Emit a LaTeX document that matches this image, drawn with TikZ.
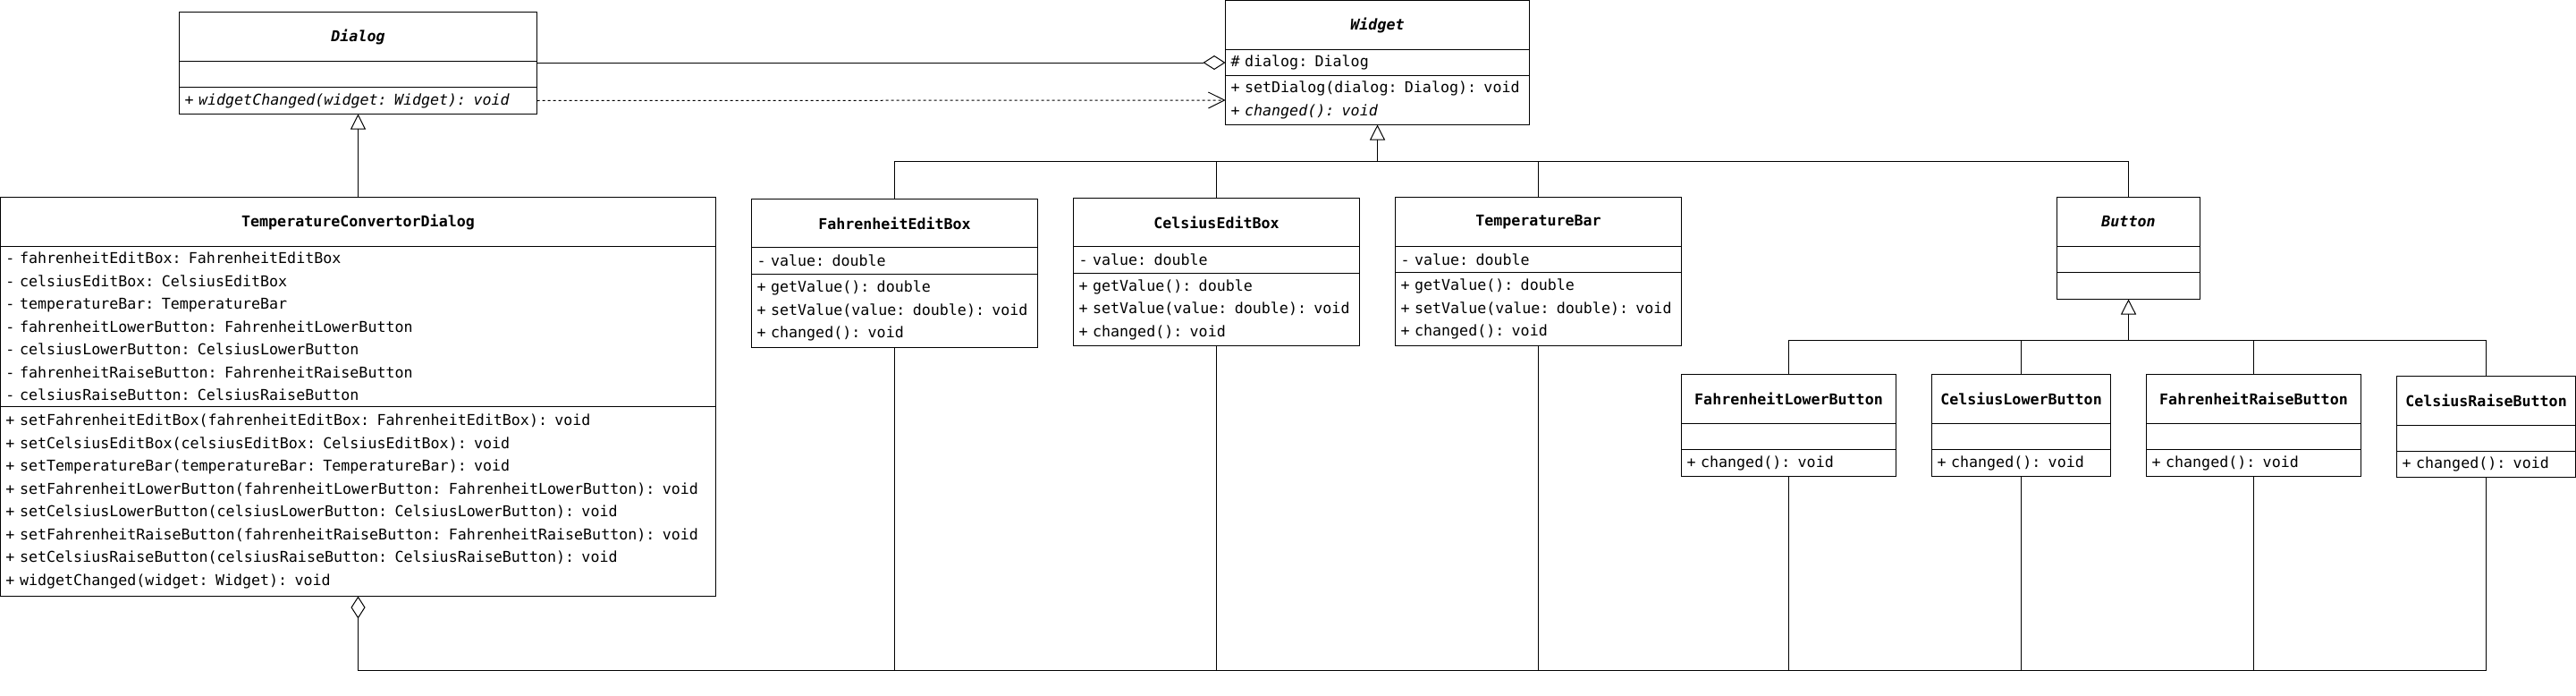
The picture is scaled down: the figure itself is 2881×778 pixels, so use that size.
\documentclass[tikz,border=0pt]{standalone}
\usepackage{fontspec}
\setmonofont{DejaVu Sans Mono}
\usepackage{tikz}
\usetikzlibrary{positioning,arrows.meta}
\newcommand\clsfont{\ttfamily\fontsize{47.4pt}{72.5pt}\selectfont}

\begin{document}
\begin{tikzpicture}[
            x=1mm, y=-1mm, line width=1mm,
            cname/.style={draw,minimum width=#1,inner sep=0pt,
                outer sep=0pt,font=\clsfont\bfseries},
            cpart/.style={draw,text width=#1-12mm,inner sep=0pt,
                inner xsep=6mm,outer sep=0pt,align=left,font=\clsfont},
            inherit/.style={-{Triangle[open,length=17mm,width=17mm]}},
            aggr/.style={-{Diamond[open,length=25mm,width=16mm]}},
            dep/.style={dash pattern=on 3mm off 3mm,
                -{Straight Barb[length=18mm,width=18mm]}}
        ]
        \useasboundingbox (0, 0) rectangle (2881, 778);
        \node[cname=400mm, minimum height=55mm, anchor=north west] (dlgh) at (200.5, 13.5) {\itshape Dialog};
        \node[cpart=400mm, minimum height=29mm, below=0pt of dlgh] (dlga) {};
        \node[cpart=400mm, minimum height=30mm, below=0pt of dlga] (dlgm) {\itshape + widgetChanged(widget: Widget): void};
        \node[cname=340mm, minimum height=55mm, anchor=north west] (wdgh) at (1370.5, 0.5) {\itshape Widget};
        \node[cpart=340mm, minimum height=29mm, below=0pt of wdgh] (wdga) {\# dialog: Dialog};
        \node[cpart=340mm, minimum height=55mm, below=0pt of wdga] (wdgm) {+ setDialog(dialog: Dialog): void\\ \itshape + changed(): void};
        \node[cname=800mm, minimum height=55mm, anchor=north west] (tcdh) at (0.5, 220.5) {TemperatureConvertorDialog};
        \node[cpart=800mm, minimum height=179mm, below=0pt of tcdh] (tcda) {- fahrenheitEditBox: FahrenheitEditBox\\ - celsiusEditBox: CelsiusEditBox\\ - temperatureBar: TemperatureBar\\ - fahrenheitLowerButton: FahrenheitLowerButton\\ - celsiusLowerButton: CelsiusLowerButton\\ - fahrenheitRaiseButton: FahrenheitRaiseButton\\ - celsiusRaiseButton: CelsiusRaiseButton};
        \node[cpart=800mm, minimum height=212mm, below=0pt of tcda] (tcdm) {+ setFahrenheitEditBox(fahrenheitEditBox: FahrenheitEditBox): void\\ + setCelsiusEditBox(celsiusEditBox: CelsiusEditBox): void\\ + setTemperatureBar(temperatureBar: TemperatureBar): void\\ + setFahrenheitLowerButton(fahrenheitLowerButton: FahrenheitLowerButton): void\\ + setCelsiusLowerButton(celsiusLowerButton: CelsiusLowerButton): void\\ + setFahrenheitRaiseButton(fahrenheitRaiseButton: FahrenheitRaiseButton): void\\ + setCelsiusRaiseButton(celsiusRaiseButton: CelsiusRaiseButton): void\\ + widgetChanged(widget: Widget): void};
        \node[cname=320mm, minimum height=54mm, anchor=north west] (febh) at (840.5, 222.5) {FahrenheitEditBox};
        \node[cpart=320mm, minimum height=30mm, below=0pt of febh] (feba) {- value: double};
        \node[cpart=320mm, minimum height=82mm, below=0pt of feba] (febm) {+ getValue(): double\\ + setValue(value: double): void\\ + changed(): void};
        \node[cname=320mm, minimum height=54mm, anchor=north west] (cebh) at (1200.5, 221.5) {CelsiusEditBox};
        \node[cpart=320mm, minimum height=30mm, below=0pt of cebh] (ceba) {- value: double};
        \node[cpart=320mm, minimum height=81mm, below=0pt of ceba] (cebm) {+ getValue(): double\\ + setValue(value: double): void\\ + changed(): void};
        \node[cname=320mm, minimum height=55mm, anchor=north west] (tbh) at (1560.5, 220.5) {TemperatureBar};
        \node[cpart=320mm, minimum height=29mm, below=0pt of tbh] (tba) {- value: double};
        \node[cpart=320mm, minimum height=82mm, below=0pt of tba] (tbm) {+ getValue(): double\\ + setValue(value: double): void\\ + changed(): void};
        \node[cname=160mm, minimum height=55mm, anchor=north west] (btnh) at (2300.5, 220.5) {\itshape Button};
        \node[cpart=160mm, minimum height=29mm, below=0pt of btnh] (btna) {};
        \node[cpart=160mm, minimum height=30mm, below=0pt of btna] (btnm) {};
        \node[cname=240mm, minimum height=55mm, anchor=north west] (flbh) at (1880.5, 418.5) {FahrenheitLowerButton};
        \node[cpart=240mm, minimum height=29mm, below=0pt of flbh] (flba) {};
        \node[cpart=240mm, minimum height=30mm, below=0pt of flba] (flbm) {+ changed(): void};
        \node[cname=200mm, minimum height=55mm, anchor=north west] (clbh) at (2160.5, 418.5) {CelsiusLowerButton};
        \node[cpart=200mm, minimum height=29mm, below=0pt of clbh] (clba) {};
        \node[cpart=200mm, minimum height=30mm, below=0pt of clba] (clbm) {+ changed(): void};
        \node[cname=240mm, minimum height=55mm, anchor=north west] (frbh) at (2400.5, 418.5) {FahrenheitRaiseButton};
        \node[cpart=240mm, minimum height=29mm, below=0pt of frbh] (frba) {};
        \node[cpart=240mm, minimum height=30mm, below=0pt of frba] (frbm) {+ changed(): void};
        \node[cname=200mm, minimum height=55mm, anchor=north west] (crbh) at (2680.5, 420.5) {CelsiusRaiseButton};
        \node[cpart=200mm, minimum height=29mm, below=0pt of crbh] (crba) {};
        \node[cpart=200mm, minimum height=29mm, below=0pt of crba] (crbm) {+ changed(): void};
        \coordinate (wbus) at (wdgm.south |- 0, 180.5);
        \coordinate (bbus) at (btnm.south |- 0, 380.5);
        \coordinate (abus) at (tcdm.south |- 0, 749.5);
        \draw[inherit] (tcdh.north) -- (tcdh.north |- dlgm.south);
        \draw[aggr] (wdga.west -| dlga.east) -- (wdga.west);
        \draw[dep] (dlgm.east) -- (wdgm.west);
        \draw[inherit] (wbus) -- (wdgm.south);
        \draw (febh.north) |- (btnh.north |- wbus) -- (btnh.north);
        \draw (cebh.north) -- (cebh.north |- wbus);
        \draw (tbh.north) -- (tbh.north |- wbus);
        \draw[inherit] (bbus) -- (btnm.south);
        \draw (flbh.north) |- (crbh.north |- bbus) -- (crbh.north);
        \draw (clbh.north) -- (clbh.north |- bbus);
        \draw (frbh.north) -- (frbh.north |- bbus);
        \draw[aggr] (crbm.south) |- (abus) -- (tcdm.south);
        \draw (febm.south) -- (febm.south |- abus);
        \draw (cebm.south) -- (cebm.south |- abus);
        \draw (tbm.south) -- (tbm.south |- abus);
        \draw (flbm.south) -- (flbm.south |- abus);
        \draw (clbm.south) -- (clbm.south |- abus);
        \draw (frbm.south) -- (frbm.south |- abus);
    \end{tikzpicture}
\end{document}
